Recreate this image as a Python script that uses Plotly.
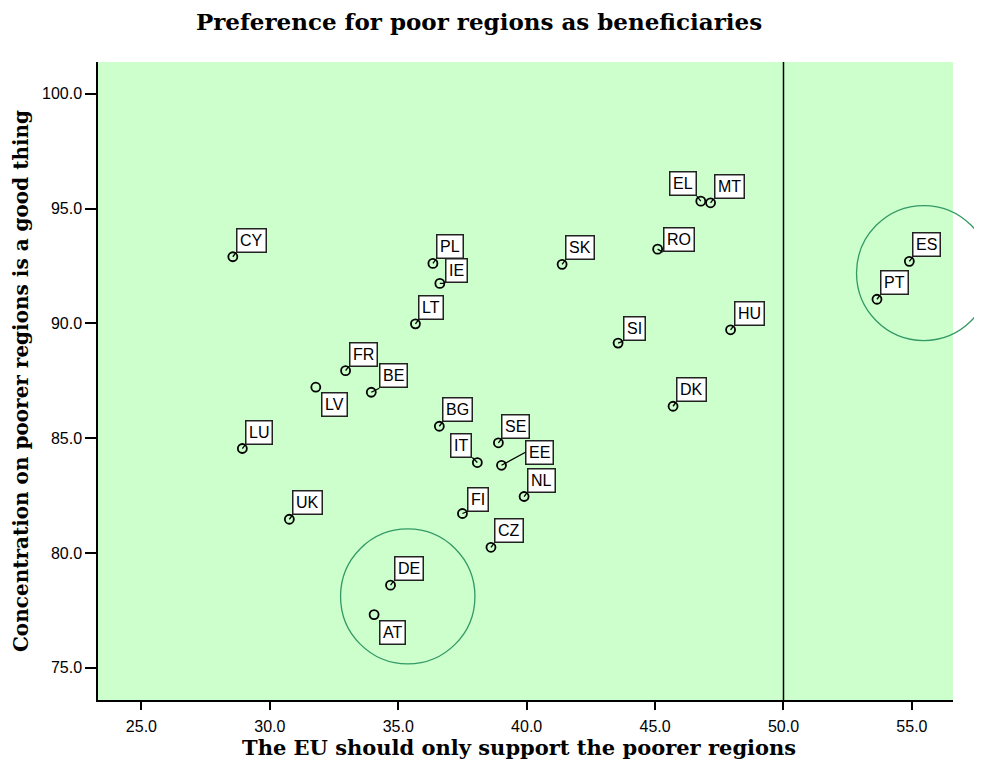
import plotly.graph_objects as go

GREEN_BG = "#ccffcc"
RING = "#339966"
SERIF = "DejaVu Serif"
SANS = "Liberation Sans, Arial"

# country codes and survey shares (%)
countries = ["CY", "PL", "IE", "LT", "FR", "BE", "LV", "LU", "UK", "BG", "IT", "SE",
             "EE", "NL", "FI", "CZ", "DE", "AT", "SK", "SI", "RO", "DK", "EL", "MT",
             "HU", "ES", "PT"]
only_poorer = [28.56, 36.35, 36.62, 35.67, 32.95, 33.95, 31.79, 28.93, 30.76, 36.60,
               38.08, 38.90, 39.02, 39.90, 37.50, 38.61, 34.70, 34.06, 41.38, 43.56,
               45.10, 45.70, 46.78, 47.16, 47.94, 54.90, 53.64]
concentration_good = [92.90, 92.61, 91.74, 89.98, 87.94, 87.00, 87.22, 84.55, 81.47,
                      85.52, 83.94, 84.80, 83.82, 82.46, 81.72, 80.25, 78.60, 77.32,
                      92.57, 89.14, 93.23, 86.39, 95.32, 95.25, 89.72, 92.70, 91.05]

# highlighted groups (ring centres)
ring_x = [35.37, 55.46]
ring_y = [78.11, 92.19]

x_ticks = [25, 30, 35, 40, 45, 50, 55]
y_ticks = [75, 80, 85, 90, 95, 100]
reference_x = 50

X_RANGE = [23.31, 56.6]
Y_RANGE = [73.6, 101.38]
W, H = 974, 753
MARGIN = dict(l=86, r=29, t=54, b=61)
RING_R = 67.5  # px

# label box placement: (xanchor, yanchor, ax, ay); default upper right
placement = {
    "LV": ("left", "top", 5, 5),
    "AT": ("left", "top", 5, 5),
    "EL": ("right", "bottom", -4, -5),
    "IT": ("right", "bottom", -5, -5),
    "EE": ("left", "middle", 24, -13),
    "RO": ("left", "bottom", 5, 3),
    "BE": ("left", "bottom", 8, -4),
    "IE": ("left", "bottom", 5, 0),
    "SI": ("left", "bottom", 5, -2),
    "FI": ("left", "bottom", 5, -2),
}
default_place = ("left", "bottom", 3, -4)

fig = go.Figure()
fig.add_trace(go.Scatter(
    x=only_poorer, y=concentration_good, mode="markers",
    marker=dict(symbol="circle-open", size=9, color="black", line=dict(width=1.8)),
    hoverinfo="text", text=countries, showlegend=False,
))

for c, xv, yv in zip(countries, only_poorer, concentration_good):
    xa, ya, ax, ay = placement.get(c, default_place)
    fig.add_annotation(
        x=xv, y=yv, text=c, showarrow=True, arrowhead=0, arrowwidth=1.3,
        arrowcolor="black", standoff=0, ax=ax, ay=ay, xanchor=xa, yanchor=ya,
        bgcolor="white", bordercolor="#222222", borderwidth=1.5, borderpad=2.5,
        font=dict(family=SANS, size=16, color="black"),
    )

# rings around highlighted groups (domain refs so they can spill past the plot)
pw = W - MARGIN["l"] - MARGIN["r"]
ph = H - MARGIN["t"] - MARGIN["b"]
for cx, cy in zip(ring_x, ring_y):
    fx = (cx - X_RANGE[0]) / (X_RANGE[1] - X_RANGE[0])
    fy = (cy - Y_RANGE[0]) / (Y_RANGE[1] - Y_RANGE[0])
    rx, ry = RING_R / pw, RING_R / ph
    fig.add_shape(type="circle", xref="x domain", yref="y domain",
                  x0=fx - rx, x1=fx + rx, y0=fy - ry, y1=fy + ry,
                  line=dict(color=RING, width=1.3))

fig.add_shape(type="line", xref="x", yref="y domain", x0=reference_x, x1=reference_x,
              y0=0, y1=1, line=dict(color="black", width=1.5))

# x axis title, set slightly left of the plot centre as in the original
fig.add_annotation(text="<b>The EU should only support the poorer regions</b>",
                   xref="paper", yref="paper", x=0.492, y=-0.0748,
                   xanchor="center", yanchor="middle", showarrow=False,
                   font=dict(family=SERIF, size=21, color="black"))

fig.update_layout(
    width=W, height=H, margin=MARGIN,
    paper_bgcolor="white", plot_bgcolor=GREEN_BG,
    title=dict(text="<b>Preference for poor regions as beneficiaries</b>",
               x=0.4836, xanchor="center", y=0.981, yanchor="middle",
               font=dict(family=SERIF, size=23, color="black")),
    xaxis=dict(range=X_RANGE, tickvals=x_ticks, tickformat=".1f",
               showgrid=False, zeroline=False, showline=True, linecolor="black",
               linewidth=1.5, ticks="outside", ticklen=8, tickwidth=1.5,
               ticklabelstandoff=3,
               tickcolor="black", tickfont=dict(family=SANS, size=16, color="black")),
    yaxis=dict(range=Y_RANGE, tickvals=y_ticks, tickformat=".1f",
               showgrid=False, zeroline=False, showline=True, linecolor="black",
               linewidth=1.5, ticks="outside", ticklen=11, tickwidth=1.5,
               tickcolor="black", tickfont=dict(family=SANS, size=16, color="black"),
               title=dict(text="<b>Concentration on poorer regions is a good thing</b>",
                          font=dict(family=SERIF, size=20, color="black"), standoff=8)),
)

fig.write_html("out.html")
